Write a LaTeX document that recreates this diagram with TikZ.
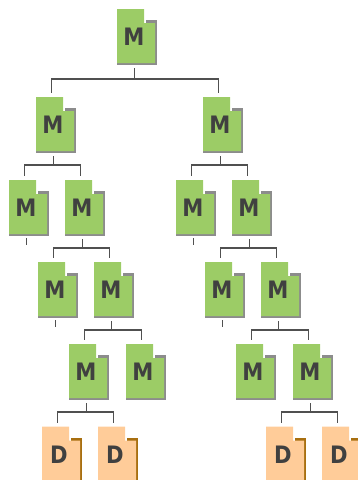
\documentclass[tikz,border=0pt]{standalone}
\usepackage{fontspec}
\setmainfont[FakeStretch=0.88]{DejaVu Sans}
\usetikzlibrary{positioning,backgrounds}

\definecolor{mgreen}{HTML}{9CCC66}
\definecolor{mshade}{HTML}{8C8C8C}
\definecolor{dpeach}{HTML}{FFCC99}
\definecolor{dshade}{HTML}{A86F10}
\definecolor{wirecol}{HTML}{505050}
\definecolor{inkcol}{HTML}{404040}
\newcommand{\icontext}[1]{\makebox[40pt][l]{\makebox[34pt]{#1}}}
\newcommand{\fileback}[3]{%
  \begin{scope}[shift={(#1.north west)}, x=1pt, y=-1pt]
    \fill[#3] (29,11) rectangle (40,56);
    \fill[#3] (0,50) rectangle (40,56);
    \fill[#2] (0,0) -- (27,0) -- (27,14) -- (38,14) -- (38,54) -- (0,54) -- cycle;
  \end{scope}}

\tikzset{
  file/.style={minimum width=40pt, minimum height=56pt, inner sep=0pt, outer sep=0pt,
    font=\bfseries\fontsize{24}{24}\selectfont, text=inkcol},
  wire/.style={draw=wirecol, line width=1.8pt},
  link/.style={to path={([shift={(-2.5pt,-3pt)}]\tikztostart.south) -- ++(0,-#1) -| ([shift={(-4.5pt,4pt)}]\tikztotarget.north)}},
  link/.default=9pt,
  stub/.style={to path={([shift={(-2.5pt,-2pt)}]\tikztostart.south) -- (\tikztotarget)}}
}

\begin{document}
\begin{tikzpicture}[on grid]
      \useasboundingbox (0,0) rectangle (357pt,-480pt);

      \node (0) [file] at (137pt,-37pt) {\icontext{M}};
      % left branch
      \node (1) [file, below left=88pt and 81pt of 0]   {\icontext{M}};
      \node (2) [file, below left=83pt and 27pt of 1]   {\icontext{M}};
      \node (3) [file, below right=83pt and 29pt of 1]  {\icontext{M}};
      \node (4) [file, below left=82pt and 27pt of 3]   {\icontext{M}};
      \node (5) [file, below right=82pt and 29pt of 3]  {\icontext{M}};
      \node (6) [file, below left=82pt and 25pt of 5]   {\icontext{M}};
      \node (7) [file, below right=82pt and 32pt of 5]  {\icontext{M}};
      \node (8) [file, below left=82.5pt and 27pt of 6]  {\icontext{D}};
      \node (9) [file, below right=82.5pt and 29pt of 6] {\icontext{D}};
      % right branch
      \node (10) [file, below right=88pt and 86pt of 0]   {\icontext{M}};
      \node (11) [file, below left=83pt and 27pt of 10]   {\icontext{M}};
      \node (12) [file, below right=83pt and 29pt of 10]  {\icontext{M}};
      \node (13) [file, below left=82pt and 27pt of 12]   {\icontext{M}};
      \node (14) [file, below right=82pt and 29pt of 12]  {\icontext{M}};
      \node (15) [file, below left=82pt and 25pt of 14]   {\icontext{M}};
      \node (16) [file, below right=82pt and 32pt of 14]  {\icontext{M}};
      \node (17) [file, below left=82.5pt and 27pt of 16]  {\icontext{D}};
      \node (18) [file, below right=82.5pt and 29pt of 16] {\icontext{D}};

      % page shapes go behind the letters
      \begin{scope}[on background layer]
        \foreach \n in {0,1,2,3,4,5,6,7,10,11,12,13,14,15,16}
          \fileback{\n}{mgreen}{mshade};
        \foreach \n in {8,9,17,18}
          \fileback{\n}{dpeach}{dshade};
      \end{scope}

      % free ends under the leaves
      \coordinate (e2)  at ([shift={(-2.5pt,-9pt)}]2.south);
      \coordinate (e4)  at ([shift={(-2.5pt,-9pt)}]4.south);
      \coordinate (e11) at ([shift={(-2.5pt,-9pt)}]11.south);
      \coordinate (e13) at ([shift={(-2.5pt,-9pt)}]13.south);

      \path[wire]
        (0) edge [link=11pt] (1)
        (0) edge [link=11pt] (10)
        (1) edge [link] (2)
        (1) edge [link] (3)
        (3) edge [link] (4)
        (3) edge [link] (5)
        (5) edge [link] (6)
        (5) edge [link] (7)
        (6) edge [link] (8)
        (6) edge [link] (9)
        (10) edge [link] (11)
        (10) edge [link] (12)
        (12) edge [link] (13)
        (12) edge [link] (14)
        (14) edge [link] (15)
        (14) edge [link] (16)
        (16) edge [link] (17)
        (16) edge [link] (18)
        (2) edge [stub] (e2)
        (4) edge [stub] (e4)
        (11) edge [stub] (e11)
        (13) edge [stub] (e13);
    \end{tikzpicture}
\end{document}
